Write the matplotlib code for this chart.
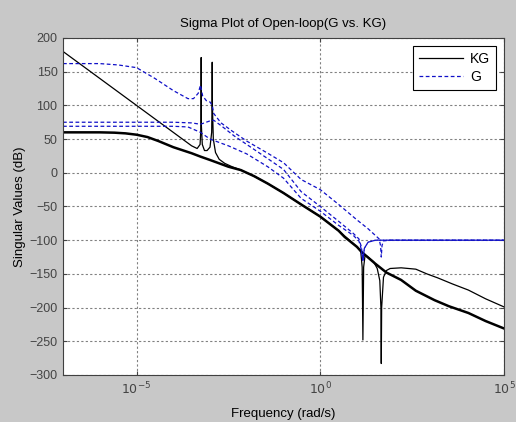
import numpy as np
import matplotlib.pyplot as plt

plt.rcParams['font.family'] = ['Liberation Sans', 'DejaVu Sans']

# singular values, stored as (log10 frequency, dB)
kg_low_logw = [-7, -6, -5.6, -5.3, -5, -4.7, -4.4, -4, -3.5, -3.26, -3, -2.5, -2.16, -1.8, -1.43,
               -1, -0.52, 0, 0.5, 0.66, 1.0, 1.115, 1.5, 1.8, 2.2, 2.6, 3.11, 3.5, 4.03, 4.5, 5]
kg_low_db = [60, 60, 59.5, 58.5, 56.5, 53, 47, 38, 29, 24, 19, 9, 4, -5, -16,
             -30, -47, -65, -86, -95, -110, -117, -135, -148, -159, -175, -189, -198, -208, -220, -231]

kg_high_logw = [-7, -6, -5, -4.5, -4, -3.7, -3.5, -3.35, -3.27, -3.245, -3.24, -3.235, -3.21,
                -3.15, -3.08, -3.0, -2.955, -2.945, -2.94, -2.935, -2.91, -2.85, -2.75, -2.6,
                -2.4, -2.2, -1.8, -1.43, -1, -0.52, 0, 0.5, 1.0, 1.1, 1.14, 1.16, 1.18, 1.22,
                1.3, 1.45, 1.55, 1.62, 1.65, 1.66, 1.67, 1.72, 1.8, 1.9, 2.2, 2.6, 2.9, 3.2,
                3.6, 4.03, 4.5, 5]
kg_high_db = [180, 140, 100, 80, 60, 48, 40, 36, 42, 70, 171, 70, 42,
              33, 33, 38, 60, 100, 164, 100, 50, 30, 20, 14,
              9, 5, -5, -16, -30, -47, -65, -86, -110, -116, -140, -248, -140, -122,
              -125, -132, -142, -160, -200, -283, -200, -155, -145, -142, -141, -143, -150, -156,
              -165, -174, -187, -199]

g1_logw = [-7, -6, -5.5, -5, -4.5, -4, -3.6, -3.45, -3.32, -3.26, -3.2, -3.1, -3.0, -2.94,
           -2.9, -2.7, -2.4, -2.0, -1.43, -1.0, -0.52, 0, 0.5, 1.0, 1.3, 1.5, 1.6, 1.64,
           1.66, 1.68, 1.72, 1.9, 5]
g1_db = [162, 162, 160, 156, 140, 122, 110, 110, 118, 130, 114, 107, 105, 100,
         88, 74, 62, 47, 29, 15, -10, -25, -47, -70, -83, -93, -98, -108,
         -125, -108, -101, -100, -100]

g2_logw = [-7, -4, -3.5, -3.26, -3.0, -2.9, -2.7, -2.35, -2.0, -1.43, -1.0, -0.52, 0, 0.5,
           0.9, 1.05, 1.12, 1.16, 1.2, 1.3, 1.5, 5]
g2_db = [75, 75, 74, 72, 77, 78, 70, 55, 42, 21, 5, -28, -50, -72,
         -90, -98, -110, -130, -112, -103, -100, -100]

g3_logw = [-7, -4, -3.6, -3.26, -3.0, -2.5, -2.0, -1.43, -1.0, -0.52, 0, 0.5, 0.9, 1.05,
           1.1, 1.16, 1.2, 1.3, 1.5, 5]
g3_db = [69, 69, 68, 60, 50, 40, 28, 9, -8, -38, -57, -78, -93, -101,
         -110, -130, -112, -103, -100, -100]

yticks = list(range(-300, 201, 50))
xticks = [1e-5, 1e0, 1e5]

fig = plt.figure(figsize=(5.16, 4.22), dpi=100, facecolor='#c8c8c8')
ax = fig.add_axes([0.1221, 0.1114, 0.8547, 0.7986])

w = lambda lw: 10.0 ** np.array(lw)
ax.semilogx(w(kg_low_logw), kg_low_db, color='k', lw=1.8, label='KG')
ax.semilogx(w(kg_high_logw), kg_high_db, color='k', lw=0.9)
ax.semilogx(w(g1_logw), g1_db, color='#1010c8', lw=0.9, dashes=(3, 2), label='G')
ax.semilogx(w(g2_logw), g2_db, color='#1010c8', lw=0.9, dashes=(3, 2))
ax.semilogx(w(g3_logw), g3_db, color='#1010c8', lw=0.9, dashes=(3, 2))

ax.set_xlim(1e-7, 1e5)
ax.set_ylim(-300, 200)
ax.set_xticks(xticks)
ax.set_xticklabels(['$10^{-5}$', '$10^{0}$', '$10^{5}$'])
ax.xaxis.set_minor_locator(plt.NullLocator())
ax.set_yticks(yticks)
ax.tick_params(direction='in', length=3, top=True, right=True, labelsize=9,
               colors='#444444', pad=4)
ax.grid(True, color='#808080', lw=0.8, dashes=(2, 2))
for s in ax.spines.values():
    s.set_color('#404040')

ax.set_title('Sigma Plot of Open-loop(G vs. KG)', fontsize=9.5, pad=8)
ax.set_xlabel('Frequency (rad/s)', fontsize=9.5, labelpad=8)
ax.set_ylabel('Singular Values (dB)', fontsize=9.5, labelpad=2)

leg = ax.legend(loc='upper right', fontsize=10, fancybox=False, framealpha=1,
                edgecolor='k', handlelength=3.2, borderaxespad=0.6,
                labelspacing=0.3, handletextpad=0.5, borderpad=0.4)
leg.get_frame().set_linewidth(0.8)
leg.legend_handles[0].set_linewidth(0.9)

fig.savefig('out.png', dpi=100, facecolor=fig.get_facecolor())
